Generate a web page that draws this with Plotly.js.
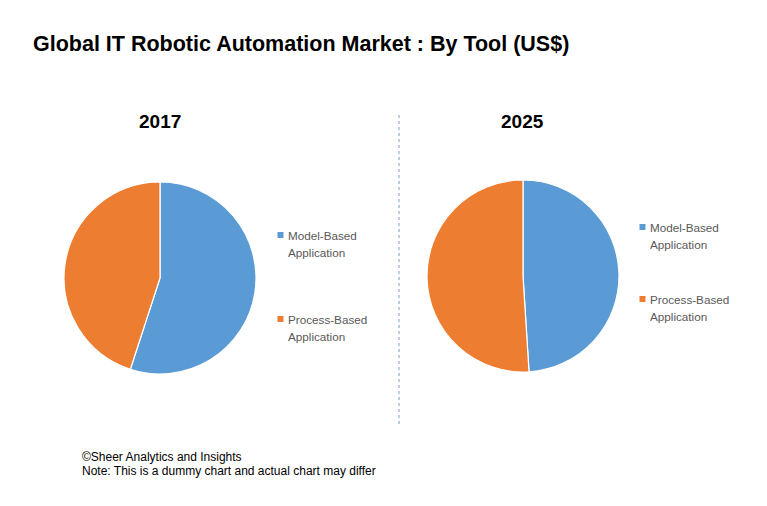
<!DOCTYPE html>
<html>
<head>
<meta charset="utf-8">
<script src="https://cdn.plot.ly/plotly-3.0.1.min.js"></script>
<style>html,body{margin:0;padding:0;background:#fff;}#chart{width:767px;height:506px;}</style>
</head>
<body>
<div id="chart"></div>
<script>
const categories = ["Model-Based Application", "Process-Based Application"];
const legendLines = [["Model-Based", "Application"], ["Process-Based", "Application"]];
const years = ["2017", "2025"];
const share2017 = [55, 45];
const share2025 = [49, 51];
const colors = ["#5B9BD5", "#ED7D31"];
const footerLines = ["©Sheer Analytics and Insights", "Note: This is a dummy chart and actual chart may differ"];

const W = 767, H = 506;
const px = v => v / W;
const py = v => 1 - v / H;
const FONT = "Liberation Sans, Arial, sans-serif";

function pieTrace(name, values, cx, cy, r) {
  return {
    type: "pie",
    name: name,
    labels: categories,
    values: values,
    sort: false,
    direction: "clockwise",
    rotation: 0,
    textinfo: "none",
    hoverinfo: "label+percent",
    showlegend: false,
    marker: {colors: colors, line: {color: "#ffffff", width: 1.2}},
    domain: {x: [px(cx - r), px(cx + r)], y: [py(cy + r), py(cy - r)]}
  };
}

const data = [
  pieTrace(years[0], share2017, 160, 278, 96),
  pieTrace(years[1], share2025, 523, 276, 96)
];

const shapes = [{
  type: "line", xref: "paper", yref: "paper",
  x0: px(399), x1: px(399), y0: py(115), y1: py(425),
  line: {color: "#7F9CC4", width: 1, dash: "3px,3px"}
}];

const annotations = [];
function ann(text, x, y, opts) {
  annotations.push(Object.assign({
    text: text, x: px(x), y: py(y), xref: "paper", yref: "paper", showarrow: false,
    xanchor: "left", yanchor: "middle", align: "left",
    font: {family: FONT, size: 12, color: "#595959"}
  }, opts || {}));
}

// legends: [marker x, first-entry y, entry spacing]
const legendPos = [[280.5, 235, 84], [642.5, 227, 72]];
legendPos.forEach(([lx, ly, gap]) => {
  categories.forEach((c, i) => {
    const y0 = ly + i * gap;
    shapes.push({
      type: "rect", xref: "paper", yref: "paper",
      x0: px(lx - 3), x1: px(lx + 3), y0: py(y0 + 3), y1: py(y0 - 3),
      fillcolor: colors[i], line: {width: 0}
    });
    legendLines[i].forEach((t, k) => ann(t, lx + 5, y0 + k * 17, {font: {family: FONT, size: 11.7, color: "#595959"}}));
  });
});

ann("<b>" + years[0] + "</b>", 160, 122, {xanchor: "center", font: {family: FONT, size: 19, color: "#000"}});
ann("<b>" + years[1] + "</b>", 522, 122, {xanchor: "center", font: {family: FONT, size: 19, color: "#000"}});
footerLines.forEach((t, k) => ann(t, 80, 457 + k * 14, {font: {family: FONT, size: 12, color: "#000"}}));

const layout = {
  width: W, height: H,
  margin: {l: 0, r: 0, t: 0, b: 0},
  paper_bgcolor: "#ffffff",
  title: {
    text: "<b>Global IT Robotic Automation Market : By Tool (US$)</b>",
    x: px(33), xanchor: "left", y: py(43), yanchor: "middle",
    font: {family: FONT, size: 21.5, color: "#000000"}
  },
  showlegend: false,
  shapes: shapes,
  annotations: annotations
};

Plotly.newPlot("chart", data, layout, {displayModeBar: false, staticPlot: true});
</script>
</body>
</html>
